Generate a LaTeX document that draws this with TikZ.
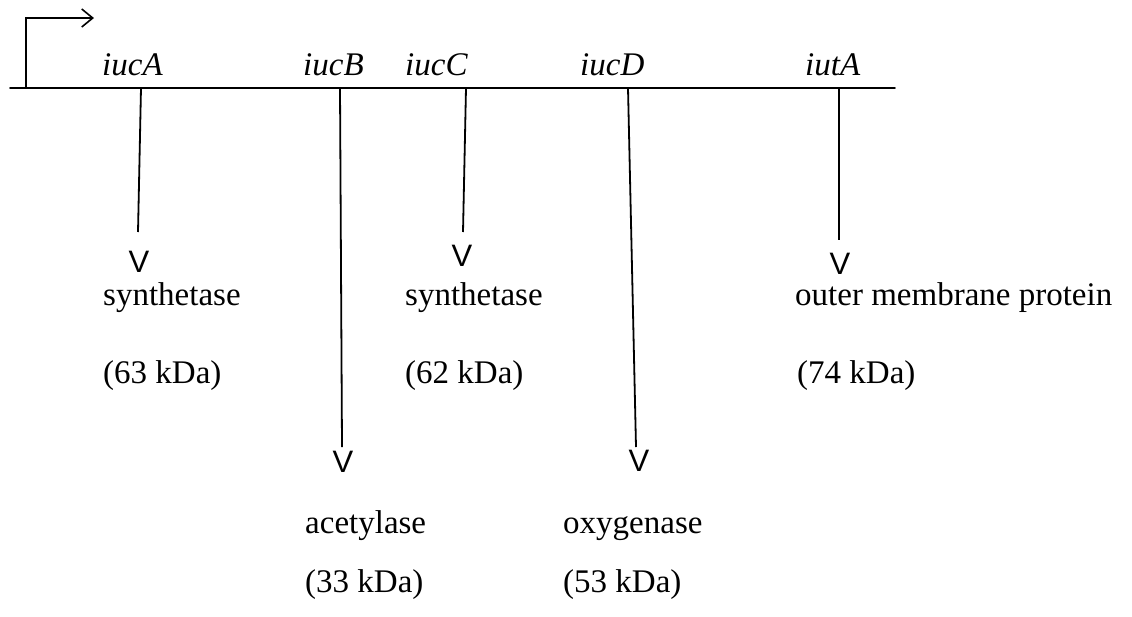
\documentclass[tikz,border=0pt]{standalone}
\usepackage{fontspec}
\setmainfont{Liberation Serif}
\newfontfamily\vfont{Liberation Sans}
\usetikzlibrary{arrows.meta}
\tikzset{
  lbl/.style={anchor=base west, inner sep=0pt, font=\fontsize{33}{40}\selectfont},
  gene/.style={anchor=base west, inner sep=0pt, font=\fontsize{33}{40}\selectfont\itshape},
  vtip/.style={inner sep=0pt, font=\vfont\fontsize{31}{31}\selectfont},
  gline/.style={line width=1.6pt, line cap=round},
  stem/.style={line width=1.8pt},
}
\begin{document}
\begin{tikzpicture}[x=1pt,y=-1pt]
\useasboundingbox (0,0) rectangle (1132,616);
% main line
\coordinate (L) at (10,88);
\coordinate (R) at (895,88);
\draw[gline] (L) -- (R);
% promoter
\coordinate (prom) at (26,88);
\coordinate (promtop) at (26,18);
\coordinate (promend) at (94,18);
\draw[line width=1.6pt, -{Straight Barb[length=11pt,width=18pt,line width=1.6pt]}] (prom) -- (promtop) -- (promend);
% gene labels
\node[gene] (gA) at (102,75) {iucA};
\node[gene] (gB) at (303,75) {iucB};
\node[gene] (gC) at (405,75) {iucC};
\node[gene] (gD) at (580,75) {iucD};
\node[gene] (gT) at (805,75) {iutA};
% points on main line
\coordinate (pA) at (141,88);
\coordinate (pB) at (340,88);
\coordinate (pC) at (466,88);
\coordinate (pD) at (628,88);
\coordinate (pT) at (839,88);
% stem ends
\coordinate (eA) at (138,232);
\coordinate (eB) at (342,447);
\coordinate (eC) at (463,232);
\coordinate (eD) at (636,447);
\coordinate (eT) at (839,240);
\draw[stem] (pA) -- (eA);
\draw[stem] (pB) -- (eB);
\draw[stem] (pC) -- (eC);
\draw[stem] (pD) -- (eD);
\draw[stem] (pT) -- (eT);
% V tips
\node[vtip] (vA) at (139,262) {V};
\node[vtip] (vB) at (343,462) {V};
\node[vtip] (vC) at (462,256) {V};
\node[vtip] (vD) at (639,461) {V};
\node[vtip] (vT) at (840,264) {V};
% protein labels
\node[lbl] (sA) at (103,305) {synthetase};
\node[lbl] (kA) at (103,383) {(63 kDa)};
\node[lbl] (sC) at (405,305) {synthetase};
\node[lbl] (kC) at (405,383) {(62 kDa)};
\node[lbl] (sT) at (795,305) {outer membrane protein};
\node[lbl] (kT) at (797,383) {(74 kDa)};
\node[lbl] (sB) at (305,533) {acetylase};
\node[lbl] (kB) at (305,592) {(33 kDa)};
\node[lbl] (sD) at (563,533) {oxygenase};
\node[lbl] (kD) at (563,592) {(53 kDa)};
\end{tikzpicture}
\end{document}
